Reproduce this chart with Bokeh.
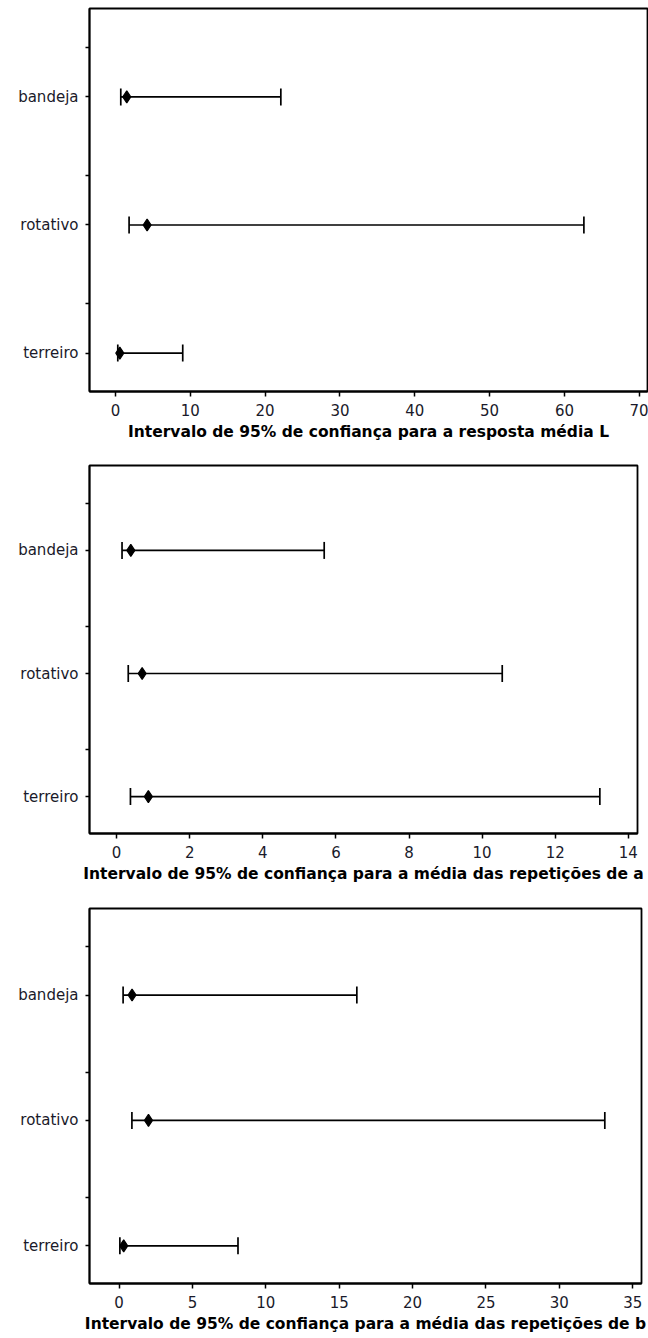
from bokeh.plotting import figure
from bokeh.models import Range1d, FixedTicker, Whisker, TeeHead, ColumnDataSource
from bokeh.layouts import column
from bokeh.embed import file_html
from bokeh.resources import INLINE

# Categories (bottom to top) and their vertical positions
categories = ["terreiro", "rotativo", "bandeja"]
positions = [1, 2, 3]

# 95% confidence intervals: lower bound, estimate, upper bound
resp_L_lower = [0.31, 1.82, 0.71]
resp_L_mid = [0.58, 4.23, 1.51]
resp_L_upper = [8.99, 62.6, 22.1]

rep_a_lower = [0.38, 0.32, 0.15]
rep_a_mid = [0.87, 0.70, 0.39]
rep_a_upper = [13.22, 10.55, 5.68]

rep_b_lower = [0.05, 0.87, 0.27]
rep_b_mid = [0.31, 2.0, 0.88]
rep_b_upper = [8.1, 33.1, 16.2]

titles = [
    "Intervalo de 95% de confiança para a resposta média L",
    "Intervalo de 95% de confiança para a média das repetições de a",
    "Intervalo de 95% de confiança para a média das repetições de b",
]

x_ticks_L = [0, 10, 20, 30, 40, 50, 60, 70]
x_ticks_a = [0, 2, 4, 6, 8, 10, 12, 14]
x_ticks_b = [0, 5, 10, 15, 20, 25, 30, 35]

FONT = "DejaVu Sans"


def ci_panel(title, lower, mid, upper, x_range, x_ticks, height,
             border_top, border_bottom, border_right):
    p = figure(width=648, height=height,
               x_range=Range1d(*x_range), y_range=Range1d(0.70, 3.69),
               output_backend="svg", toolbar_location=None,
               frame_align=False,
               min_border_left=89, min_border_right=border_right,
               min_border_top=border_top, min_border_bottom=border_bottom,
               background_fill_color="white", border_fill_color="white")
    p.xgrid.visible = False
    p.ygrid.visible = False
    p.outline_line_color = "black"
    p.outline_line_width = 1.8
    p.outline_line_alpha = 1

    src = ColumnDataSource(dict(y=positions, lo=lower, mid=mid, hi=upper))

    whisk = Whisker(base="y", lower="lo", upper="hi", dimension="width",
                    source=src, line_color="black", line_width=1.7,
                    lower_head=TeeHead(size=17, line_color="black", line_width=1.7),
                    upper_head=TeeHead(size=17, line_color="black", line_width=1.7))
    p.add_layout(whisk)
    p.scatter("mid", "y", source=src, marker="diamond", size=12,
              fill_color="black", line_color="black", line_width=1.2)

    # x axis
    xa = p.xaxis[0]
    xa.ticker = FixedTicker(ticks=x_ticks, minor_ticks=[])
    xa.axis_line_color = "black"
    xa.axis_line_width = 1.8
    xa.major_tick_out = 5
    xa.major_tick_in = 0
    xa.major_tick_line_width = 1.5
    xa.minor_tick_out = 0
    xa.minor_tick_in = 0
    xa.major_label_text_font = FONT
    xa.major_label_text_font_size = "15px"
    xa.major_label_text_color = "#1a1a2a"
    xa.major_label_standoff = 7
    xa.axis_label = title
    xa.axis_label_text_font = FONT
    xa.axis_label_text_font_size = "15.5px"
    xa.axis_label_text_font_style = "bold"
    xa.axis_label_text_color = "black"
    xa.axis_label_standoff = 4

    # y axis: category labels with short marks between them
    ya = p.yaxis[0]
    ya.ticker = FixedTicker(ticks=positions,
                            minor_ticks=[v + 0.385 for v in positions])
    ya.major_label_overrides = {v: c for v, c in zip(positions, categories)}
    ya.axis_line_color = "black"
    ya.axis_line_width = 1.8
    ya.major_tick_out = 4
    ya.major_tick_in = 0
    ya.major_tick_line_width = 1.5
    ya.minor_tick_out = 4
    ya.minor_tick_in = 0
    ya.minor_tick_line_width = 1.5
    ya.major_label_text_font = FONT
    ya.major_label_text_font_size = "15px"
    ya.major_label_text_color = "#1a1a2a"
    ya.major_label_standoff = 7
    return p


p1 = ci_panel(titles[0], resp_L_lower, resp_L_mid, resp_L_upper,
              (-3.47, 71.1), x_ticks_L, 445, 8, 54, 1)
p2 = ci_panel(titles[1], rep_a_lower, rep_a_mid, rep_a_upper,
              (-0.74, 14.25), x_ticks_a, 442, 20, 54, 11)
p3 = ci_panel(titles[2], rep_b_lower, rep_b_mid, rep_b_upper,
              (-2.02, 35.6), x_ticks_b, 451, 21, 55, 7)

layout = column(p1, p2, p3, spacing=0)

open("out.html", "w").write(file_html(layout, INLINE))
